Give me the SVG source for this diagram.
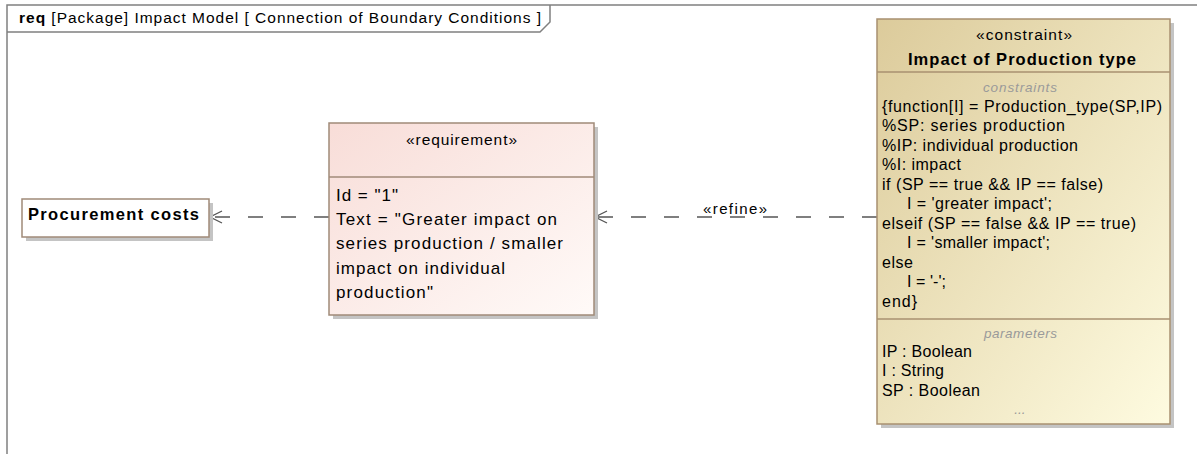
<svg xmlns="http://www.w3.org/2000/svg" width="1197" height="454" viewBox="0 0 1197 454">
<style>
text{font-family:"Liberation Sans",Arial,sans-serif;fill:#000}
.frame{fill:none;stroke:#808080;stroke-width:1.5}
.box{stroke-width:1.5}
.shadow{fill:#c4c4c4}
.conn{fill:none;stroke:#555555;stroke-width:1.4;stroke-dasharray:15 18}
.head{fill:none;stroke:#555555;stroke-width:1.3}
.gray{fill:#9a9a9a;font-style:italic;font-size:13.5px}
.c{font-size:16px}
.r{font-size:17px}
</style>
<defs>
<linearGradient id="gCon" x1="0" y1="0" x2="1" y2="1">
<stop offset="0" stop-color="#dccb9b"/>
<stop offset="1" stop-color="#fefbe0"/>
</linearGradient>
<linearGradient id="gReq" x1="0" y1="0" x2="1" y2="1">
<stop offset="0" stop-color="#f8ddd8"/>
<stop offset="1" stop-color="#fffaf8"/>
</linearGradient>
</defs>

<g id="frame">
<path class="frame" d="M7,454 L7,5 L1197,5"/>
<path class="frame" d="M7,32 L540,32 L550,22 L550,5"/>
<text x="19" y="23" font-size="15.5" textLength="522" lengthAdjust="spacing"><tspan font-weight="bold">req</tspan> [Package] Impact Model [ Connection of Boundary Conditions ]</text>
</g>

<g id="connectors">
<line class="conn" x1="329" y1="217" x2="211" y2="217"/>
<path class="head" d="M222,211 L210,217 L222,223"/>
<line class="conn" x1="877" y1="217" x2="596" y2="217"/>
<path class="head" d="M607,211 L595,217 L607,223"/>
<text x="703" y="214" font-size="15" textLength="64" lengthAdjust="spacing">«refine»</text>
</g>

<g id="procurement">
<rect class="shadow" x="26" y="203" width="187" height="38"/>
<rect class="box" x="22" y="199" width="187" height="38" fill="#ffffff" stroke="#a08a78"/>
<text x="28" y="220" font-size="16.5" font-weight="bold" textLength="171" lengthAdjust="spacing">Procurement costs</text>
</g>

<g id="requirement">
<rect class="shadow" x="333" y="127" width="265" height="192"/>
<rect class="box" x="329" y="123" width="265" height="192" fill="url(#gReq)" stroke="#a08a78"/>
<line x1="329" y1="177" x2="594" y2="177" stroke="#a08a78" stroke-width="1.5"/>
<text x="406" y="145" font-size="15.5" textLength="111" lengthAdjust="spacing">«requirement»</text>
<text x="336" y="201" class="r" textLength="62" lengthAdjust="spacing">Id = "1"</text>
<text x="336" y="225" class="r" textLength="221" lengthAdjust="spacing">Text = "Greater impact on</text>
<text x="336" y="249" class="r" textLength="227" lengthAdjust="spacing">series production / smaller</text>
<text x="336" y="274" class="r" textLength="169" lengthAdjust="spacing">impact on individual</text>
<text x="336" y="298" class="r" textLength="97" lengthAdjust="spacing">production"</text>
</g>

<g id="constraint">
<rect class="shadow" x="881" y="23" width="293" height="405"/>
<rect class="box" x="877" y="19" width="293" height="405" fill="url(#gCon)" stroke="#a89070"/>
<line x1="877" y1="72" x2="1170" y2="72" stroke="#a89070" stroke-width="1.5"/>
<line x1="877" y1="319" x2="1170" y2="319" stroke="#a89070" stroke-width="1.5"/>
<text x="976" y="40" font-size="15.5" textLength="96" lengthAdjust="spacing">«constraint»</text>
<text x="908" y="65" font-size="16.5" font-weight="bold" textLength="228" lengthAdjust="spacing">Impact of Production type</text>
<text x="983" y="92" class="gray" textLength="74" lengthAdjust="spacing">constraints</text>
<text x="882" y="112" class="c" textLength="280" lengthAdjust="spacing">{function[I] = Production_type(SP,IP)</text>
<text x="882" y="131" class="c" textLength="183" lengthAdjust="spacing">%SP: series production</text>
<text x="882" y="151" class="c" textLength="196" lengthAdjust="spacing">%IP: individual production</text>
<text x="882" y="170" class="c" textLength="79" lengthAdjust="spacing">%I: impact</text>
<text x="882" y="190" class="c" textLength="221" lengthAdjust="spacing">if (SP == true &amp;&amp; IP == false)</text>
<text x="907" y="209" class="c" textLength="145" lengthAdjust="spacing">I = 'greater impact';</text>
<text x="882" y="229" class="c" textLength="254" lengthAdjust="spacing">elseif (SP == false &amp;&amp; IP == true)</text>
<text x="907" y="248" class="c" textLength="143" lengthAdjust="spacing">I = 'smaller impact';</text>
<text x="882" y="268" class="c" textLength="31" lengthAdjust="spacing">else</text>
<text x="907" y="287" class="c" textLength="39" lengthAdjust="spacing">I = '-';</text>
<text x="882" y="307" class="c" textLength="35" lengthAdjust="spacing">end}</text>
<text x="984" y="338" class="gray" textLength="73" lengthAdjust="spacing">parameters</text>
<text x="882" y="357" class="c" textLength="90" lengthAdjust="spacing">IP : Boolean</text>
<text x="882" y="376" class="c" textLength="62" lengthAdjust="spacing">I : String</text>
<text x="882" y="396" class="c" textLength="98" lengthAdjust="spacing">SP : Boolean</text>
<text x="1020" y="414" class="gray" text-anchor="middle" fill="#b0b0b0">...</text>
</g>
</svg>
